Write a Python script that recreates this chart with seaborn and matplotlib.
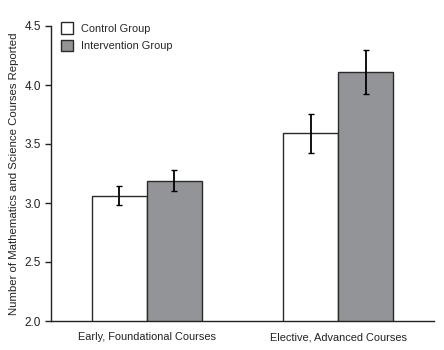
import matplotlib
matplotlib.use("Agg")
import matplotlib.pyplot as plt
import seaborn as sns
import pandas as pd
import numpy as np
from matplotlib import font_manager

categories = ["Early, Foundational Courses", "Elective, Advanced Courses"]
groups = ["Control Group", "Intervention Group"]
control_means = [3.06, 3.59]
intervention_means = [3.19, 4.11]
control_err = [0.08, 0.165]
intervention_err = [0.09, 0.185]
yticks = [2.0, 2.5, 3.0, 3.5, 4.0, 4.5]

sns.set_style("white")
names = {f.name for f in font_manager.fontManager.ttflist}
fam = "Liberation Sans Narrow" if "Liberation Sans Narrow" in names else "Liberation Sans"
plt.rcParams["font.family"] = [fam, "DejaVu Sans"]

df = pd.DataFrame({
    "category": categories * 2,
    "group": [groups[0]] * 2 + [groups[1]] * 2,
    "value": control_means + intervention_means,
})

fig = plt.figure(figsize=(4.44, 3.5), dpi=100)
ax = fig.add_axes([51/444, 29/350, (434-51)/444, (321-26)/350])
sns.barplot(data=df, x="category", y="value", hue="group", order=categories,
            hue_order=groups, palette=["white", "#939497"], edgecolor="#2a2a2a",
            linewidth=1.0, width=0.575, errorbar=None, ax=ax, saturation=1)

errs = [control_err, intervention_err]
for cont, err in zip(ax.containers, errs):
    xs = [p.get_x() + p.get_width()/2 for p in cont.patches]
    hs = [p.get_height() for p in cont.patches]
    ax.errorbar(xs, hs, yerr=err, fmt="none", ecolor="black", elinewidth=1.3,
                capsize=2.2, capthick=1.0)

ax.set_ylim(2.0, 4.5)
ax.set_xlim(-0.5, 1.5)
ax.set_yticks(yticks)
ax.set_yticklabels([f"{t:.1f}" for t in yticks], fontsize=8.5, color="#222222")
ax.set_xticks([-0.5, 0.5, 1.5])
ax.set_xticklabels([])
ax.set_xticks([0, 1], minor=True)
ax.set_xticklabels(categories, minor=True, fontsize=7.9, color="#222222")
ax.tick_params(axis="x", which="minor", length=0, pad=8)
ax.tick_params(axis="x", which="major", length=4, width=1, direction="out", color="#222222")
ax.tick_params(axis="y", length=4, width=1, direction="out", color="#222222", pad=3, left=True)
for s in ["top", "right"]:
    ax.spines[s].set_visible(False)
for s in ["left", "bottom"]:
    ax.spines[s].set_color("#222222")
    ax.spines[s].set_linewidth(1.0)
ax.set_xlabel("")
ax.set_ylabel("Number of Mathematics and Science Courses Reported", fontsize=8.2,
              color="#222222", labelpad=4)
ax.legend(loc="upper left", bbox_to_anchor=(0.01, 1.035), frameon=False, fontsize=7.9,
          handlelength=1.1, handleheight=1.2, handletextpad=0.7, labelspacing=0.6,
          borderaxespad=0.2)

fig.savefig("out.png", dpi=100)
